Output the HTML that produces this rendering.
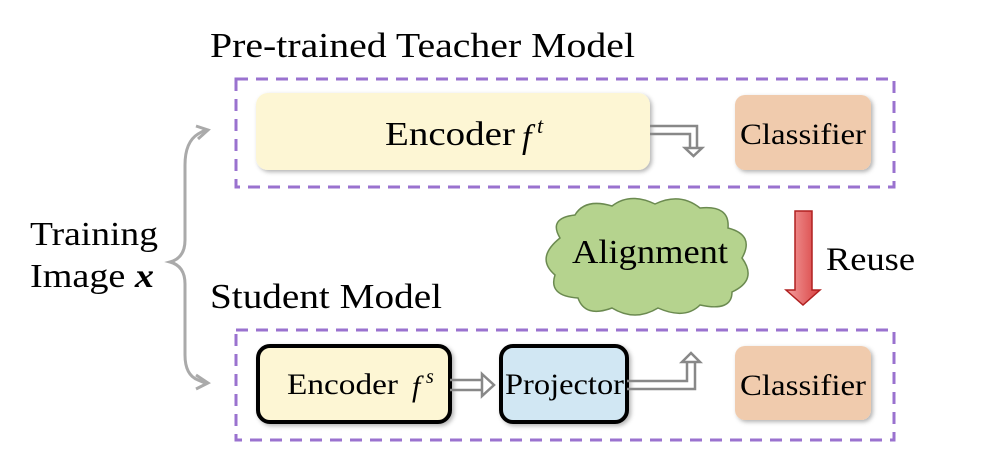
<!DOCTYPE html>
<html><head><style>
body{margin:0;background:#fff;}
svg text{font-family:"Liberation Serif",serif;fill:#000;}
</style></head><body>
<svg width="982" height="462" viewBox="0 0 982 462" xmlns="http://www.w3.org/2000/svg">
<defs>
<filter id="sh" x="-10%" y="-10%" width="130%" height="130%"><feDropShadow dx="2" dy="2" stdDeviation="2" flood-color="#000" flood-opacity="0.3"/></filter>
<linearGradient id="rg" x1="0" x2="1"><stop offset="0" stop-color="#f4a0a0"/><stop offset="1" stop-color="#d84040"/></linearGradient>
</defs>
<text x="210" y="57" font-size="35" textLength="425" lengthAdjust="spacingAndGlyphs">Pre-trained Teacher Model</text>
<text x="210" y="308" font-size="35" textLength="232" lengthAdjust="spacingAndGlyphs">Student Model</text>
<text x="30" y="245" font-size="34" textLength="128" lengthAdjust="spacingAndGlyphs">Training</text>
<text x="30" y="287" font-size="34" textLength="124" lengthAdjust="spacingAndGlyphs">Image <tspan font-style="italic" font-weight="bold">x</tspan></text>
<text x="826" y="270" font-size="33" textLength="89" lengthAdjust="spacingAndGlyphs">Reuse</text>
<rect x="236" y="79" width="658" height="108" fill="none" stroke="#9a72cf" stroke-width="3" stroke-dasharray="12,8"/>
<rect x="236" y="330" width="658" height="110" fill="none" stroke="#9a72cf" stroke-width="3" stroke-dasharray="12,8"/>
<path d="M205,130 L198,134 Q185,142 185,165 L185,240 Q185,258 170,262 Q185,266 185,284 L185,355 Q185,375 198,380 L205,383" fill="none" stroke="#aaa" stroke-width="3"/>
<path d="M196,126 L208,130 L198,139" fill="none" stroke="#aaa" stroke-width="3"/>
<path d="M196,375 L208,383 L196,389" fill="none" stroke="#aaa" stroke-width="3"/>
<rect x="256" y="93" width="394" height="77" rx="12" fill="#fdf6d4" filter="url(#sh)"/>
<text x="385" y="145" font-size="34" textLength="130" lengthAdjust="spacingAndGlyphs">Encoder</text>
<text x="522" y="148" font-size="34" font-style="italic">f</text>
<text x="537" y="133" font-size="22" font-style="italic">t</text>
<path d="M650,126 L697,126 L697,148 M650,134 L690,134 L690,148 M685,148 L702,148 L693.5,156 Z" fill="none" stroke="#888" stroke-width="2.5"/>
<rect x="735" y="95" width="136" height="75" rx="10" fill="#f0cbad" filter="url(#sh)"/>
<text x="740" y="144" font-size="30" textLength="126" lengthAdjust="spacingAndGlyphs">Classifier</text>
<path d="M560,238 Q548,218 575,215 Q585,198 612,206 Q630,192 655,204 Q680,192 700,208 Q730,205 728,228 Q755,235 742,258 Q758,280 732,292 Q732,312 700,305 Q685,320 658,308 Q635,322 612,308 Q585,318 578,298 Q548,296 555,275 Q535,258 560,238 Z" fill="#b5d38e" stroke="#6b8a50" stroke-width="1.5"/>
<text x="572" y="263" font-size="34" textLength="156" lengthAdjust="spacingAndGlyphs">Alignment</text>
<path d="M795,211 L812,211 L812,290 L820,290 L803,305 L786,290 L795,290 Z" fill="url(#rg)" stroke="#b02020" stroke-width="1.5"/>
<rect x="258" y="346" width="192" height="76" rx="12" fill="#fdf6d4" stroke="#000" stroke-width="4" filter="url(#sh)"/>
<text x="287" y="394" font-size="30" textLength="111" lengthAdjust="spacingAndGlyphs">Encoder</text>
<text x="412" y="396" font-size="30" font-style="italic">f</text>
<text x="426" y="383" font-size="20" font-style="italic">s</text>
<path d="M450,380 L482,380 M450,390 L482,390 M482,374 L494,385 L482,396 Z" fill="none" stroke="#888" stroke-width="2.5"/>
<rect x="501" y="346" width="126" height="76" rx="12" fill="#d1e7f3" stroke="#000" stroke-width="4" filter="url(#sh)"/>
<text x="505" y="394" font-size="30" textLength="119" lengthAdjust="spacingAndGlyphs">Projector</text>
<path d="M627,381 L687,381 L687,362 M627,389 L695,389 L695,362 M682,362 L700,362 L691,353 Z" fill="none" stroke="#888" stroke-width="2.5"/>
<rect x="735" y="346" width="136" height="74" rx="10" fill="#f0cbad" filter="url(#sh)"/>
<text x="740" y="395" font-size="30" textLength="126" lengthAdjust="spacingAndGlyphs">Classifier</text>
</svg>
</body></html>
